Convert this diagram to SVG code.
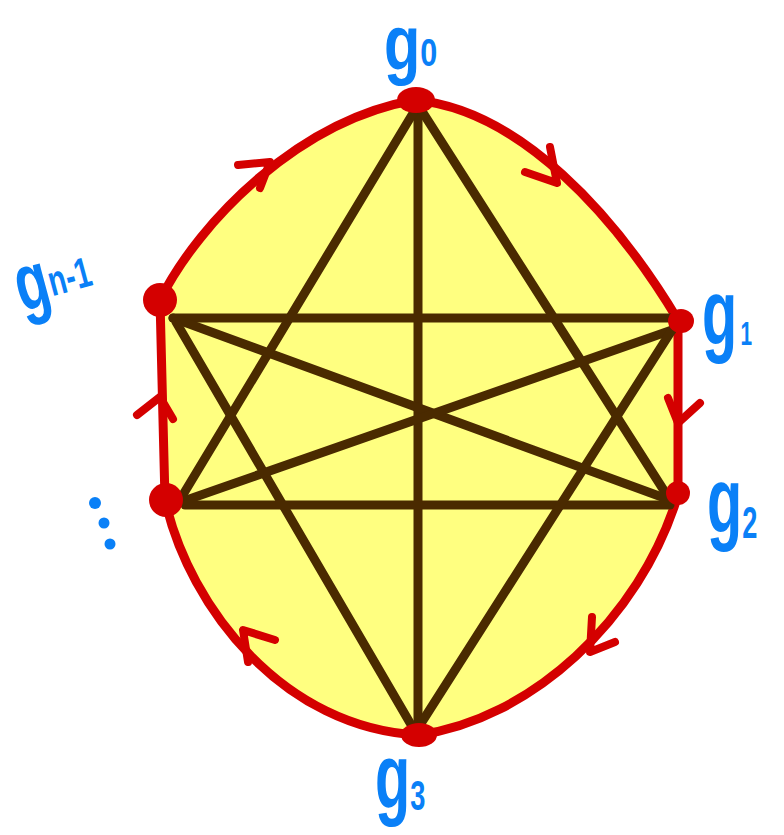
<svg xmlns="http://www.w3.org/2000/svg" width="784" height="835" viewBox="0 0 784 835">
<style>
.edge{stroke:#4a2a00;stroke-width:9;stroke-linecap:round;fill:none}
.arr{stroke:#d40000;stroke-width:8;stroke-linecap:round;stroke-linejoin:round;fill:none}
.dot{fill:#d40000}
.lbl{font-family:"Liberation Sans","Noto Sans",sans-serif;font-weight:bold;fill:#0a80f7}
</style>
<rect width="784" height="835" fill="#ffffff"/>
<g id="cycle">
<path d="M160,300 C200,220 300,120 415,100 C520,110 615,215 678,320 L678,495 C640,620 530,720 418,735 C285,728 190,610 165,500 Z" fill="#ffff80" stroke="#d40000" stroke-width="9" stroke-linejoin="round"/>
</g>
<g id="connectors">
<line class="edge" x1="418" y1="105" x2="418" y2="728"/>
<line class="edge" x1="418" y1="105" x2="178" y2="503"/>
<line class="edge" x1="418" y1="105" x2="670" y2="500"/>
<line class="edge" x1="173" y1="318" x2="673" y2="318"/>
<line class="edge" x1="173" y1="318" x2="670" y2="500"/>
<line class="edge" x1="176" y1="322" x2="413" y2="728"/>
<line class="edge" x1="178" y1="503" x2="672" y2="330"/>
<line class="edge" x1="185" y1="505" x2="670" y2="505"/>
<line class="edge" x1="672" y1="330" x2="420" y2="725"/>
<polyline class="arr" points="238,165 270,162 260,188"/>
<polyline class="arr" points="550,147 557,183 525,172"/>
<polyline class="arr" points="668,398 678,423 700,403"/>
<polyline class="arr" points="592,617 590,652 615,642"/>
<polyline class="arr" points="275,640 243,630 248,662"/>
<polyline class="arr" points="137,415 160,397 173,419"/>
</g>
<g id="g0"><ellipse class="dot" cx="416" cy="100" rx="19" ry="13"/><text class="lbl" x="384" y="70" font-size="70" transform="translate(384,70) scale(0.85,1.1) translate(-384,-70)">g<tspan font-size="36" dy="-4">0</tspan></text></g>
<g id="g1"><ellipse class="dot" cx="681" cy="321" rx="13" ry="12"/><text class="lbl" x="702" y="345" font-size="72" transform="translate(702,345) scale(0.8,1.3) translate(-702,-345)">g<tspan font-size="26" dx="4" dy="0">1</tspan></text></g>
<g id="g2"><ellipse class="dot" cx="678" cy="493" rx="12" ry="12"/><text class="lbl" x="707" y="533" font-size="72" transform="translate(707,533) scale(0.8,1.3) translate(-707,-533)">g<tspan font-size="34" dy="4">2</tspan></text></g>
<g id="g3"><ellipse class="dot" cx="419" cy="735" rx="18" ry="12"/><text class="lbl" x="375" y="808" font-size="72" transform="translate(375,808) scale(0.8,1.25) translate(-375,-808)">g<tspan font-size="34" dy="2">3</tspan></text></g>
<g id="gn-1"><circle class="dot" cx="160" cy="300" r="17"/><text class="lbl" x="22" y="312" font-size="64" transform="rotate(-15 22 312) translate(22,312) scale(0.85,1.25) translate(-22,-312)">g<tspan font-size="34" dy="-6">n-1</tspan></text></g>
<g id="gdots"><circle class="dot" cx="166" cy="500" r="17"/><circle cx="95" cy="503" r="6" fill="#0a80f7"/><circle cx="104" cy="523" r="5.5" fill="#0a80f7"/><circle cx="110" cy="544" r="5.5" fill="#0a80f7"/></g>
</svg>
